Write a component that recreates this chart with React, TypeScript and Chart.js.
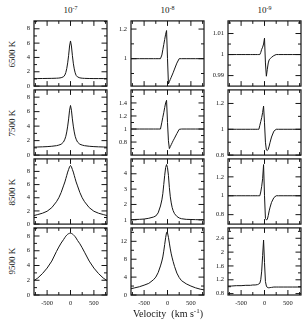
import React, { useEffect, useRef } from 'react';
import { Chart, registerables } from 'chart.js';

Chart.register(...registerables);

// ---------- data ----------
const VELOCITY = [-780, -700, -600, -500, -400, -300, -250, -200, -150, -120, -100, -80, -60, -40, -20, 0, 20, 40, 60, 80, 100, 120, 150, 200, 250, 300, 400, 500, 600, 700, 780];

const TEMPERATURES = ['6500 K', '7500 K', '8500 K', '9500 K'];
const RATE_EXPONENTS = ['-7', '-8', '-9'];

const T6500_E7 = [1.05, 1.05, 1.06, 1.07, 1.08, 1.1, 1.12, 1.17, 1.3, 1.55, 1.9, 2.45, 3.25, 4.3, 5.6, 6.3, 5.6, 4.3, 3.2, 2.4, 1.85, 1.5, 1.28, 1.15, 1.1, 1.08, 1.06, 1.05, 1.05, 1.05, 1.05];
const T6500_E8 = [1, 1, 1, 1, 1, 1, 1, 1, 1, 1.025, 1.06, 1.095, 1.13, 1.165, 1.19, 1.0, 0.83, 0.845, 0.86, 0.875, 0.89, 0.905, 0.93, 0.97, 1, 1, 1, 1, 1, 1, 1];
const T6500_E9 = [1, 1, 1, 1, 1, 1, 1, 1, 1, 1, 1, 1.001, 1.0025, 1.0035, 1.005, 1.0078, 0.996, 0.9897, 0.993, 0.996, 0.9975, 0.998, 0.9987, 0.9995, 1, 1, 1, 1, 1, 1, 1];

const T7500_E7 = [1.1, 1.12, 1.14, 1.17, 1.22, 1.3, 1.38, 1.5, 1.8, 2.2, 2.6, 3.2, 4.0, 5.0, 6.2, 6.85, 6.2, 5.0, 4.0, 3.2, 2.6, 2.2, 1.8, 1.5, 1.38, 1.3, 1.22, 1.17, 1.14, 1.12, 1.1];
const T7500_E8 = [1, 1, 1, 1, 1, 1, 1, 1, 1, 1.105, 1.18, 1.25, 1.33, 1.4, 1.44, 1.1, 0.82, 0.7, 0.73, 0.76, 0.79, 0.82, 0.86, 0.93, 0.995, 1, 1, 1, 1, 1, 1];
const T7500_E9 = [1, 1, 1, 1, 1, 1, 1, 1, 1, 1, 1.03, 1.06, 1.09, 1.13, 1.18, 1.05, 0.9, 0.84, 0.835, 0.845, 0.87, 0.9, 0.94, 0.985, 1, 1, 1, 1, 1, 1, 1];

const T8500_E7 = [1.3, 1.45, 1.65, 1.95, 2.5, 3.4, 4.0, 4.8, 5.8, 6.4, 6.9, 7.4, 7.9, 8.3, 8.7, 8.9, 8.7, 8.3, 7.9, 7.4, 6.9, 6.4, 5.8, 4.8, 4.0, 3.4, 2.5, 1.95, 1.65, 1.45, 1.3];
const T8500_E8 = [1.0, 1.02, 1.03, 1.05, 1.1, 1.18, 1.25, 1.45, 1.9, 2.3, 2.7, 3.3, 3.9, 4.4, 4.6, 4.4, 3.9, 3.1, 2.5, 2.1, 1.8, 1.6, 1.4, 1.22, 1.12, 1.07, 1.03, 1.02, 1.01, 1.0, 1.0];
const T8500_E9 = [1, 1, 1, 1, 1, 1, 1, 1, 1, 1, 1, 1.04, 1.1, 1.18, 1.33, 1.0, 0.76, 0.745, 0.75, 0.79, 0.84, 0.88, 0.93, 0.98, 1, 1, 1, 1, 1, 1, 1];

const T9500_E7 = [1.95, 2.3, 2.9, 3.65, 4.6, 5.9, 6.5, 7.05, 7.5, 7.8, 7.98, 8.12, 8.24, 8.32, 8.37, 8.38, 8.35, 8.28, 8.18, 8.05, 7.9, 7.72, 7.4, 6.95, 6.4, 5.8, 4.6, 3.65, 2.9, 2.3, 1.95];
const T9500_E8 = [1.4, 1.6, 1.85, 2.2, 2.6, 3.4, 4.0, 5.0, 6.5, 7.6, 8.5, 9.8, 11.3, 12.8, 14.0, 13.9, 12.9, 11.6, 10.3, 9.2, 8.3, 7.5, 6.4, 4.9, 3.9, 3.2, 2.5, 2.0, 1.6, 1.3, 1.15];
const T9500_E9 = [1.02, 1.02, 1.03, 1.03, 1.04, 1.04, 1.05, 1.05, 1.06, 1.08, 1.1, 1.2, 1.45, 1.9, 2.35, 1.7, 1.15, 1.02, 0.98, 0.97, 0.97, 0.975, 0.98, 0.99, 0.99, 0.99, 0.99, 0.99, 0.99, 0.99, 0.99];

const SERIES = [
  T6500_E7, T6500_E8, T6500_E9,
  T7500_E7, T7500_E8, T7500_E9,
  T8500_E7, T8500_E8, T8500_E9,
  T9500_E7, T9500_E8, T9500_E9,
];

// axis ranges and ticks
const X_RANGE = [-780, 780];
const X_MAJOR_TICKS = [-500, 0, 500];
const X_MINOR_TICKS = [-750, -250, 250, 750];

const Y_RANGES = [
  [0, 9.1], [0.815, 1.255], [0.985, 1.016],
  [0, 9.0], [0.6, 1.6], [0.8, 1.305],
  [0, 9.9], [0.72, 4.97], [0.7, 1.39],
  [0, 9.1], [0, 15], [0.76, 2.7],
];
const Y_MAJOR_TICKS = [
  [0, 2, 4, 6, 8], [0.8, 1, 1.2], [0.99, 1, 1.01],
  [0, 2, 4, 6, 8], [0.8, 1, 1.2, 1.4], [0.8, 1, 1.2],
  [0, 2, 4, 6, 8], [1, 2, 3, 4], [0.8, 1, 1.2],
  [0, 2, 4, 6, 8], [0, 4, 8, 12], [0.8, 1.2, 1.6, 2, 2.4],
];
const Y_MINOR_TICKS = [
  [1, 3, 5, 7, 9], [0.9, 1.1], [0.995, 1.005, 1.015],
  [1, 3, 5, 7], [0.7, 0.9, 1.1, 1.3, 1.5], [0.9, 1.1],
  [1, 3, 5, 7, 9], [1.5, 2.5, 3.5, 4.5], [0.9, 1.1, 1.3],
  [1, 3, 5, 7, 9], [2, 6, 10, 14], [1, 1.4, 1.8, 2.2, 2.6],
];

// ---------- layout ----------
const PANEL_LEFT = [34, 131, 228];
const PANEL_TOP = [19, 88, 157, 226];
const PANEL_W = 73;
const PANEL_H = 69;
const LM = 26;
const PAD = 6;
const XAXIS_H = 16;
const SERIF = "'Liberation Serif', 'Times New Roman', serif";
const INK = '#151515';

const framePlugin = {
  id: 'frame',
  afterDraw(chart: any, _args: any, opts: any) {
    const { ctx, chartArea } = chart;
    const { left, right, top, bottom } = chartArea;
    const xs = chart.scales.x;
    const ys = chart.scales.y;
    ctx.save();
    ctx.strokeStyle = INK;
    ctx.lineWidth = 1.2;
    ctx.strokeRect(left, top, right - left, bottom - top);
    ctx.lineWidth = 1;
    const drawX = (vals: number[], len: number) => {
      vals.forEach((v) => {
        const p = xs.getPixelForValue(v);
        if (p < left || p > right) return;
        ctx.beginPath();
        ctx.moveTo(p, bottom);
        ctx.lineTo(p, bottom - len);
        ctx.moveTo(p, top);
        ctx.lineTo(p, top + len);
        ctx.stroke();
      });
    };
    const drawY = (vals: number[], len: number) => {
      vals.forEach((v) => {
        const p = ys.getPixelForValue(v);
        if (p < top - 0.5 || p > bottom + 0.5) return;
        ctx.beginPath();
        ctx.moveTo(left, p);
        ctx.lineTo(left + len, p);
        ctx.moveTo(right, p);
        ctx.lineTo(right - len, p);
        ctx.stroke();
      });
    };
    drawX(opts.xMajor, 5);
    drawX(opts.xMinor, 3);
    drawY(opts.yMajor, 5.5);
    drawY(opts.yMinor, 3);
    ctx.restore();
  },
};

function Panel({ row, col }: { row: number; col: number }) {
  const ref = useRef<HTMLCanvasElement>(null);
  const isBottom = row === 3;
  const cw = LM + PANEL_W + PAD;
  const ch = PAD + PANEL_H + (isBottom ? XAXIS_H : PAD);

  useEffect(() => {
    const idx = row * 3 + col;
    const values = SERIES[idx];
    const [ymin, ymax] = Y_RANGES[idx];
    const yMajor = Y_MAJOR_TICKS[idx];
    const chart = new Chart(ref.current as HTMLCanvasElement, {
      type: 'line',
      data: {
        datasets: [
          {
            data: VELOCITY.map((v, i) => ({ x: v, y: values[i] })),
            borderColor: INK,
            borderWidth: 1,
            pointRadius: 0,
            tension: 0,
            fill: false,
          },
        ],
      },
      options: {
        animation: false,
        responsive: false,
        events: [],
        layout: { autoPadding: false, padding: { left: 0, right: PAD, top: PAD, bottom: isBottom ? 0 : PAD } },
        plugins: {
          legend: { display: false },
          tooltip: { enabled: false },
          frame: {
            xMajor: X_MAJOR_TICKS,
            xMinor: X_MINOR_TICKS,
            yMajor: yMajor,
            yMinor: Y_MINOR_TICKS[idx],
          },
        } as any,
        scales: {
          x: {
            type: 'linear',
            min: X_RANGE[0],
            max: X_RANGE[1],
            display: isBottom,
            grid: { display: false, drawTicks: false },
            border: { display: false },
            ticks: {
              font: { family: SERIF, size: 6.5 },
              color: INK,
              padding: 4,
              maxRotation: 0,
              autoSkip: false,
              callback: (v: any) => String(v),
            },
            afterBuildTicks: (s: any) => {
              s.ticks = X_MAJOR_TICKS.map((v) => ({ value: v }));
            },
            afterFit: (s: any) => {
              s.height = isBottom ? XAXIS_H : 0;
            },
          },
          y: {
            type: 'linear',
            min: ymin,
            max: ymax,
            grid: { display: false, drawTicks: false },
            border: { display: false },
            ticks: {
              font: { family: SERIF, size: 6.5 },
              color: INK,
              padding: 4,
              autoSkip: false,
              callback: (v: any) => String(v),
            },
            afterBuildTicks: (s: any) => {
              s.ticks = yMajor
                .filter((v) => v >= ymin - 1e-9 && v <= ymax + 1e-9)
                .map((v) => ({ value: v }));
            },
            afterFit: (s: any) => {
              s.width = LM;
            },
          },
        },
      } as any,
      plugins: [framePlugin],
    });
    return () => chart.destroy();
  }, []);

  return (
    <canvas
      ref={ref}
      width={cw}
      height={ch}
      style={{
        position: 'absolute',
        left: PANEL_LEFT[col] - LM,
        top: PANEL_TOP[row] - PAD,
        width: cw,
        height: ch,
      }}
    />
  );
}

export default function App() {
  const panels = [];
  for (let r = 0; r < 4; r++) {
    for (let c = 0; c < 3; c++) {
      panels.push(<Panel key={`${r}-${c}`} row={r} col={c} />);
    }
  }
  return (
    <div
      style={{
        position: 'absolute',
        left: 0,
        top: 0,
        width: 303,
        height: 323,
        background: '#fff',
        fontFamily: SERIF,
        color: INK,
        overflow: 'hidden',
      }}
    >
      {RATE_EXPONENTS.map((e, c) => (
        <div
          key={e}
          style={{
            position: 'absolute',
            left: PANEL_LEFT[c] + PANEL_W / 2,
            top: 3,
            transform: 'translateX(-50%)',
            fontSize: 9,
            lineHeight: '14px',
            whiteSpace: 'nowrap',
          }}
        >
          10<sup style={{ fontSize: 6, verticalAlign: 'top', position: 'relative', top: -2 }}>{e}</sup>
        </div>
      ))}
      {TEMPERATURES.map((t, r) => (
        <div
          key={t}
          style={{
            position: 'absolute',
            left: 12,
            top: PANEL_TOP[r] + PANEL_H / 2,
            transform: 'translate(-50%, -50%) rotate(-90deg)',
            fontSize: 9,
            whiteSpace: 'nowrap',
            lineHeight: '10px',
          }}
        >
          {t}
        </div>
      ))}
      {panels}
      <div
        style={{
          position: 'absolute',
          left: 168,
          top: 314,
          transform: 'translate(-50%, -50%)',
          fontSize: 10,
          whiteSpace: 'nowrap',
          lineHeight: '12px',
        }}
      >
        Velocity&nbsp;&nbsp;(km s<sup style={{ fontSize: 7, verticalAlign: 'top', position: 'relative', top: -3 }}>-1</sup>)
      </div>
    </div>
  );
}
